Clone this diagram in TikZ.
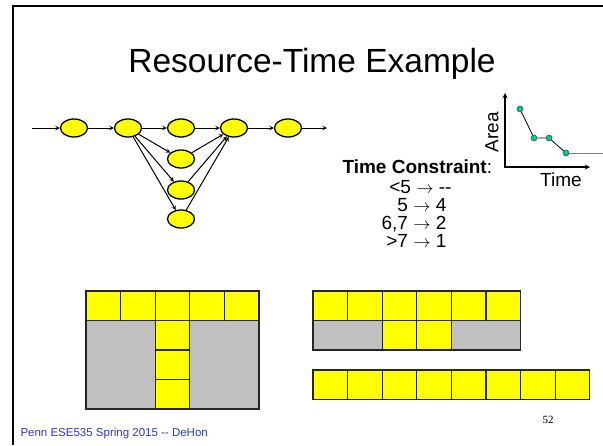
\documentclass[tikz,border=0pt]{standalone}
\usepackage{fontspec}
\setmainfont{Liberation Sans}
\newfontfamily\pagenumfont{Liberation Serif}
\usetikzlibrary{shapes.geometric}
\definecolor{opyellow}{RGB}{255,255,0}
\definecolor{idlegray}{RGB}{192,192,192}
\definecolor{ptgreen}{RGB}{0,200,150}
\definecolor{footblue}{RGB}{51,51,204}
\newcommand{\fsz}[1]{\fontsize{#1}{#1}\selectfont}
\tikzset{
  op/.style={ellipse, draw, line width=1.3pt, fill=opyellow, minimum width=27pt, minimum height=18pt, inner sep=0pt},
  cell/.style={draw=black!85, line width=1.2pt, fill=opyellow},
  idle/.style={draw=black!85, line width=1.2pt, fill=idlegray},
  pt/.style={circle, draw=black!70, fill=ptgreen, line width=0.6pt, minimum size=6pt, inner sep=0pt},
}
\begin{document}
\begin{tikzpicture}[x=1pt, y=-1pt, >=stealth]
\useasboundingbox (0,0) rectangle (603,445);
% slide frame and title
\draw[line width=2pt] (13,445) -- (13,6) -- (603,6);
\node[anchor=base, font=\fsz{33.5}] (title) at (312,72) {Resource-Time Example};

% operator graph
\node[op] (a) at (74,128) {};
\node[op] (b) at (128,128) {};
\node[op] (c) at (181,128) {};
\node[op] (d) at (234,128) {};
\node[op] (e) at (288,128) {};
\node[op] (f) at (181,159) {};
\node[op] (g) at (181,190) {};
\node[op] (h) at (181,219) {};
\coordinate (in) at (32,128);
\coordinate (out) at (327,128);
\draw[->, line width=1pt] (in) -- (a);
\foreach \u/\v in {a/b, b/c, c/d, d/e, b/f, b/g, b/h, f/d, g/d, h/d}
  \draw[->, line width=1pt] (\u) -- (\v);
\draw[->, line width=1pt] (e) -- (out);

% area-time curve
\coordinate (o) at (505,167);
\coordinate (ytop) at (505,93);
\coordinate (xend) at (590,167);
\draw[<->, line width=1.3pt] (ytop) -- (o) -- (xend);
\node[rotate=90, font=\fsz{19}] (area) at (492,132) {Area};
\node[font=\fsz{19}] (time) at (561,180) {Time};
\node[pt] (p1) at (520,109) {};
\node[pt] (p2) at (534,138) {};
\node[pt] (p3) at (549,138) {};
\node[pt] (p4) at (566,153) {};
\coordinate (tail) at (603,153);
\draw[line width=0.8pt] (p1) -- (p2) -- (p3) -- (p4);
\draw[line width=0.8pt, gray] (p4) -- (tail);

% constraint table
\node[anchor=base west, font=\fsz{19}] (tc) at (339,173) {\textbf{Time Constraint}:};
\node[anchor=base east, font=\fsz{19}] (t1) at (455,193) {<5 $\rightarrow$ -{}-};
\node[anchor=base east, font=\fsz{19}] (t2) at (450,211) {5 $\rightarrow$ 4};
\node[anchor=base east, font=\fsz{19}] (t3) at (450,229) {6,7 $\rightarrow$ 2};
\node[anchor=base east, font=\fsz{19}] (t4) at (450,247) {>7 $\rightarrow$ 1};

% schedules
\foreach \i in {0,...,4}
  \filldraw[cell] (86+34.6*\i,291) rectangle ++(34.6,29.5);
\filldraw[idle] (86,320.5) rectangle (259,409);
\foreach \j in {0,1,2}
  \filldraw[cell] (155.2,320.5+29.5*\j) rectangle ++(34.6,29.5);

\foreach \i in {0,...,5}
  \filldraw[cell] (313+34.6*\i,291) rectangle ++(34.6,29.5);
\filldraw[idle] (313,320.5) rectangle (382.2,350);
\filldraw[idle] (451.4,320.5) rectangle (520.6,350);
\filldraw[cell] (382.2,320.5) rectangle ++(34.6,29.5);
\filldraw[cell] (416.8,320.5) rectangle ++(34.6,29.5);

\foreach \i in {0,...,7}
  \filldraw[cell] (313+34.6*\i,370) rectangle ++(34.6,29.5);

% footer
\node[font=\pagenumfont\fsz{11}] (pg) at (548,420) {52};
\node[anchor=base west, text=footblue, font=\fsz{11.5}] (foot) at (17,436) {Penn ESE535 Spring 2015 -{}- DeHon};
\end{tikzpicture}
\end{document}
